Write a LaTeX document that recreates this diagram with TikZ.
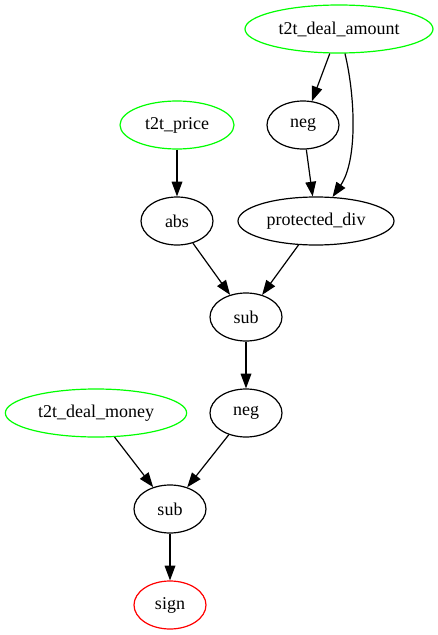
\documentclass[tikz,border=0pt]{standalone}
\usepackage{fontspec}
\setmainfont{Liberation Serif}
\usetikzlibrary{shapes.geometric,arrows.meta}
\begin{document}
\begin{tikzpicture}[x=0.75pt,y=-0.75pt,
  gnode/.style={ellipse,draw,line width=0.9pt,inner sep=0pt,minimum height=36pt,minimum width=54pt,font=\fontsize{13.5pt}{16pt}\selectfont},
  inp/.style={gnode,draw={rgb,255:red,0;green,255;blue,0}},
  outp/.style={gnode,draw={rgb,255:red,255;green,0;blue,0}},
  edge/.style={line width=0.9pt,-{Triangle[length=11pt,width=8pt]}}]
\useasboundingbox (0,0) rectangle (438,635);
\node[inp,minimum width=141pt] (amt) at (339,29) {t2t\_deal\_amount};
\node[gnode] (neg1) at (303,125) {neg};
\node[inp,minimum width=85.5pt] (price) at (177,125) {t2t\_price};
\node[gnode] (abs) at (177,221) {abs};
\node[gnode,minimum width=117pt] (pdiv) at (316,221) {protected\_div};
\node[gnode] (sub1) at (246,317) {sub};
\node[gnode] (neg2) at (246,413) {neg};
\node[inp,minimum width=136pt] (money) at (96,413) {t2t\_deal\_money};
\node[gnode] (sub2) at (170,509) {sub};
\node[outp] (sign) at (170,605) {sign};
\draw[edge] (amt) -- (neg1);
\draw[edge] (amt) .. controls (355,95) and (358,160) .. (pdiv);
\draw[edge] (neg1) -- (pdiv);
\draw[edge] (price) -- (abs);
\draw[edge] (abs) -- (sub1);
\draw[edge] (pdiv) -- (sub1);
\draw[edge] (sub1) -- (neg2);
\draw[edge] (money) -- (sub2);
\draw[edge] (neg2) -- (sub2);
\draw[edge] (sub2) -- (sign);
\end{tikzpicture}
\end{document}
